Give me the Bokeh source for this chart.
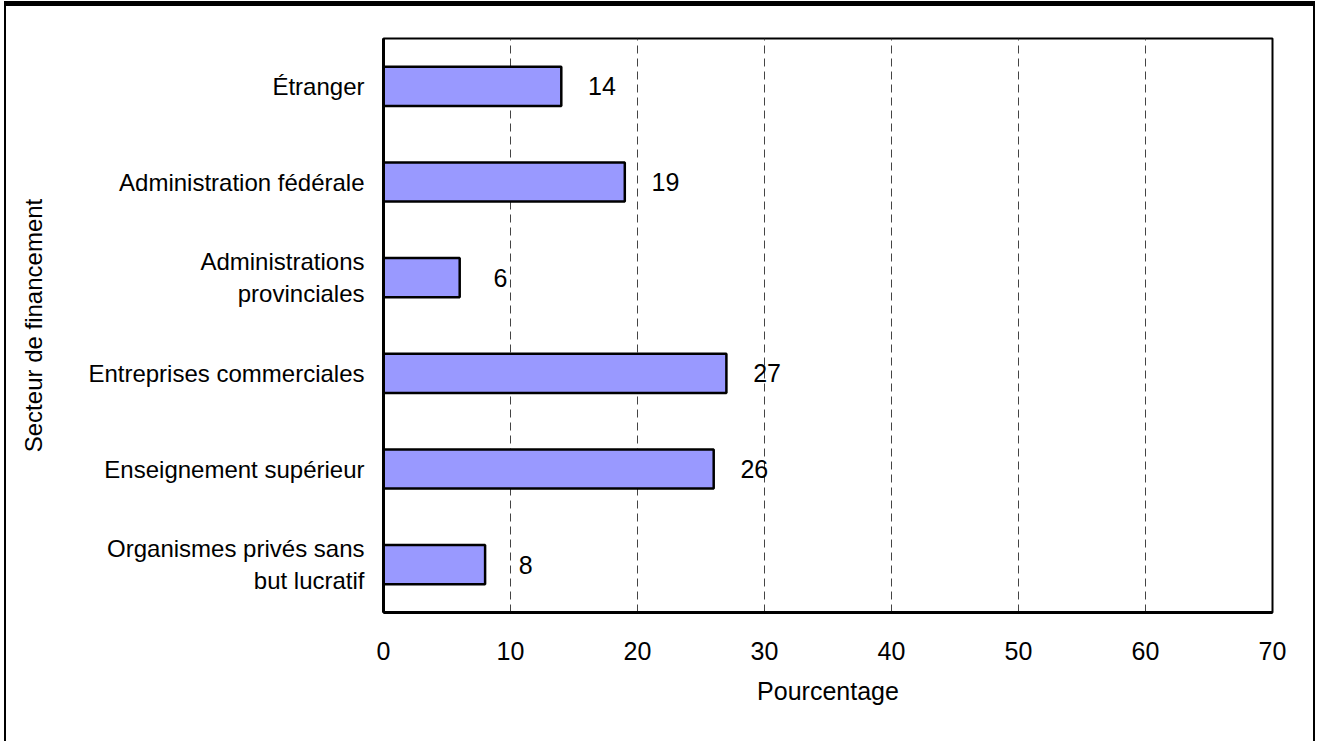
from bokeh.plotting import figure
from bokeh.models import FactorRange, ColumnDataSource, Range1d, FixedTicker
from bokeh.core.properties import value
from bokeh.embed import file_html
from bokeh.resources import INLINE

categories = ["Étranger", "Administration fédérale", "Administrations\nprovinciales",
              "Entreprises commerciales", "Enseignement supérieur",
              "Organismes privés sans\nbut lucratif"]
values = [14, 19, 6, 27, 26, 8]
x_ticks = [0, 10, 20, 30, 40, 50, 60, 70]
x_title = "Pourcentage"
y_title = "Secteur de financement"

FONT = "Liberation Sans"

p = figure(width=1311, height=740, output_backend="svg", toolbar_location=None,
           y_range=FactorRange(factors=list(reversed(categories)), range_padding=0),
           x_range=Range1d(0, 70),
           min_border_left=377, min_border_right=45, min_border_top=32, min_border_bottom=134,
           styles={"margin-left": "4px", "margin-top": "1px",
                   "border-left": "2px solid black", "border-right": "2px solid black",
                   "border-top": "5px solid black"})

src = ColumnDataSource(dict(cat=categories, val=values,
                            lx=[v + 3.2 for v in values],
                            lab=[str(v) for v in values]))
p.hbar(y="cat", right="val", left=0, height=0.41, source=src,
       fill_color="#9999FF", line_color="black", line_width=2.5)
p.text(x="lx", y="cat", text="lab", source=src, text_align="center",
       text_baseline="middle", text_font=value(FONT), text_font_size="25px",
       text_color="black")

p.outline_line_color = "black"
p.outline_line_width = 2

p.xaxis.ticker = FixedTicker(ticks=x_ticks)
for ax in (p.xaxis, p.yaxis):
    ax.major_tick_line_color = None
    ax.minor_tick_line_color = None
    ax.major_tick_out = 0
    ax.major_tick_in = 0
    ax.axis_line_color = "black"
    ax.axis_line_width = 3
    ax.major_label_text_font = FONT
    ax.axis_label_text_font = FONT
    ax.axis_label_text_font_style = "normal"
    ax.major_label_text_color = "black"
    ax.axis_label_text_color = "black"

p.xaxis.axis_label = x_title
p.yaxis.axis_label = y_title
p.xaxis.major_label_text_font_size = "25px"
p.yaxis.major_label_text_font_size = "24px"
p.xaxis.axis_label_text_font_size = "25px"
p.yaxis.axis_label_text_font_size = "24px"
p.xaxis.major_label_standoff = 29
p.yaxis.major_label_standoff = 19
p.xaxis.axis_label_standoff = 14
p.yaxis.axis_label_standoff = 38

p.ygrid.grid_line_color = None
p.xgrid.grid_line_color = "#444444"
p.xgrid.grid_line_width = 1
p.xgrid.grid_line_dash = "8 5"

open("out.html", "w").write(file_html(p, INLINE))
